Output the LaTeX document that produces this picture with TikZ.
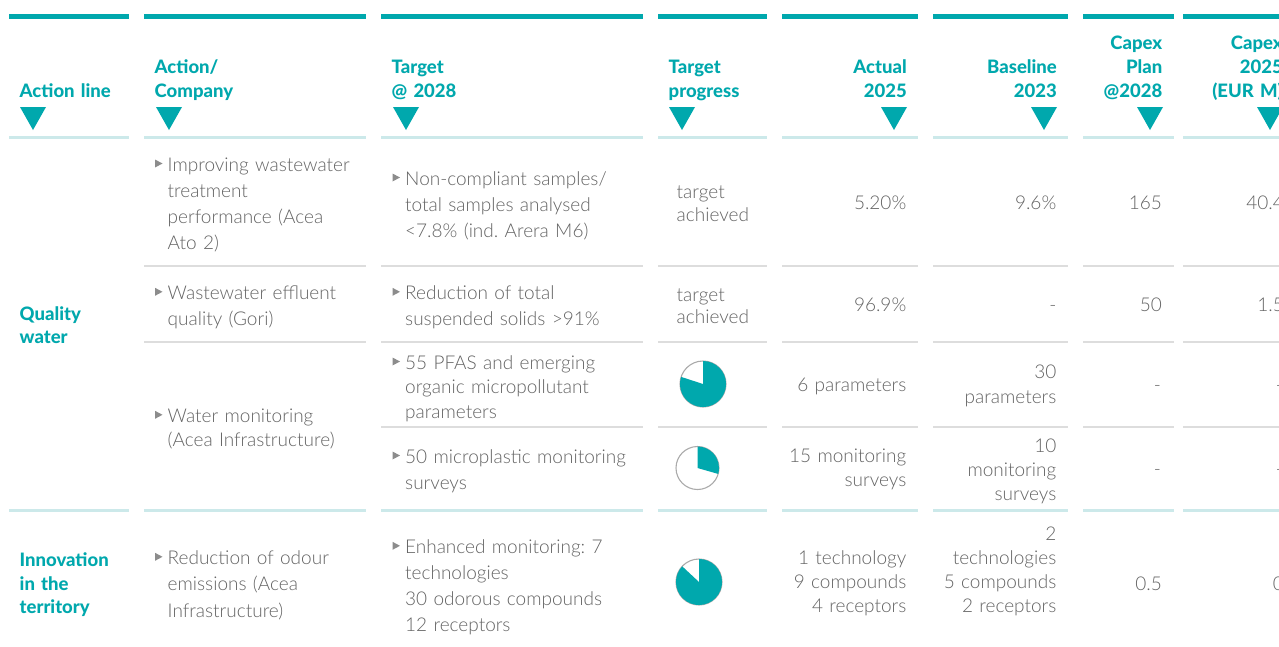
\documentclass[tikz,border=0pt]{standalone}
\usepackage{fontspec}
\IfFontExistsTF{Lato Heavy}{\newfontfamily\hdfont{Lato Heavy}\def\hdbf{}}{\newfontfamily\hdfont{Lato}\def\hdbf{\bfseries}}
\IfFontExistsTF{Lato Light}{\newfontfamily\bdfont{Lato Light}}{\newfontfamily\bdfont{Lato}}
\definecolor{teal1}{RGB}{0,168,173}
\definecolor{lteal}{RGB}{204,233,234}
\definecolor{gline}{RGB}{221,221,221}
\definecolor{txtgray}{RGB}{100,100,100}
\definecolor{bulgray}{RGB}{140,140,140}
\definecolor{piegray}{RGB}{170,170,170}
\tikzset{
  hd/.style={inner sep=0pt, text=teal1, text width=200pt, font=\hdfont\hdbf\fontsize{18.5}{24}\selectfont},
  hdl/.style={hd, align=left, anchor=base west},
  hdr/.style={hd, align=right, anchor=base east},
  bdl/.style={inner sep=0pt, text=txtgray, text width=300pt, align=left, anchor=base west, font=\bdfont\frenchspacing\fontsize{19}{#1}\selectfont},
  bdl/.default=26.3,
  bdr/.style={inner sep=0pt, text=txtgray, text width=220pt, align=right, anchor=base east, font=\bdfont\frenchspacing\fontsize{19}{#1}\selectfont},
  bdr/.default=24.3,
  cl/.style={inner sep=0pt, text=teal1, text width=150pt, align=left, anchor=base west, font=\hdfont\hdbf\fontsize{18.5}{23.6}\selectfont},
  bul/.pic={\fill[bulgray] (0,11.5) -- (0,3.5) -- (7.5,7.5) -- cycle;},
  tri/.pic={\fill[teal1] (0,0) -- (26,0) -- (13,-23) -- cycle;},
  pieout/.style={draw=piegray, line width=1.1pt, fill=white}
}
\begin{document}
\begin{tikzpicture}[x=1pt,y=1pt]
\useasboundingbox (0,0) rectangle (1279,-646);
\fill[white] (0,0) rectangle (1279,-646);
\clip (0,0) rectangle (1279,-646);
% column bars and lines
\foreach \a/\b in {9/129,144/366,381/643,658/767,782/918,933/1068,1083/1174,1183/1300}{
  \fill[teal1] (\a,-13.5) rectangle (\b,-18.5);
  \fill[lteal] (\a,-136) rectangle (\b,-138.6);
  \fill[lteal] (\a,-509) rectangle (\b,-511.6);
}
\foreach \a/\b in {144/366,381/643,658/767,782/918,933/1068,1083/1174,1183/1300}{
  \fill[gline] (\a,-265) rectangle (\b,-267);
  \fill[gline] (\a,-340.7) rectangle (\b,-342.7);
}
\foreach \a/\b in {381/643,658/767,782/918,933/1068,1083/1174,1183/1300}{
  \fill[gline] (\a,-426.3) rectangle (\b,-428.3);
}
% header triangles
\foreach \x in {20,156,393,669,881,1031,1137,1257}{
  \pic at (\x,-107) {tri};
}
% headers
\node[hdl] (h1) at (19.5,-97) {Action line};
\node[hdl] (h2) at (154.5,-73) {Action/\\Company};
\node[hdl] (h3) at (391.5,-73) {Target\\@ 2028};
\node[hdl] (h4) at (668.5,-73) {Target\\progress};
\node[hdr] (h5) at (907,-73) {Actual\\2025};
\node[hdr] (h6) at (1057,-73) {Baseline\\2023};
\node[hdr] (h7) at (1162.5,-49) {Capex\\Plan\\@2028};
\node[hdr] (h8) at (1283,-49) {Capex\\2025\\(EUR M)};
% action lines
\node[cl] (a1) at (19.5,-320) {Quality\\water};
\node[cl] (a2) at (19.5,-566.7) {Innovation\\in the\\territory};
% bullets
\foreach \x/\y in {155/171,392.5/185,155/299.3,392.5/299.3,392.5/369,392.5/463,155/422.3,155/564.3,392.5/553.3}{
  \pic at (\x,-\y) {bul};
}
% row 1
\node[bdl] (r1c2) at (167.5,-171) {Improving wastewater\\treatment\\performance (Acea\\Ato 2)};
\node[bdl] (r1c3) at (405,-185) {Non-compliant samples/\\total samples analysed\\<7.8\% (ind. Arera M6)};
\node[bdl=23] (r1c4) at (676.5,-198.3) {target\\achieved};
\node[bdr] (r1c5) at (906.5,-209.3) {5.20\%};
\node[bdr] (r1c6) at (1056.5,-209.3) {9.6\%};
\node[bdr] (r1c7) at (1162,-209.3) {165};
\node[bdr] (r1c8) at (1284,-209.3) {40.4};
% row 2
\node[bdl] (r2c2) at (167.5,-299.3) {Wastewater effluent\\quality (Gori)};
\node[bdl] (r2c3) at (405,-299.3) {Reduction of total\\suspended solids >91\%};
\node[bdl=22.5] (r2c4) at (676.5,-301.3) {target\\achieved};
\node[bdr] (r2c5) at (906.5,-311) {96.9\%};
\node[bdr] (r2c6) at (1056.5,-311) {-};
\node[bdr] (r2c7) at (1162,-311) {50};
\node[bdr] (r2c8) at (1284,-311) {1.5};
% row 3 and 4 (merged action)
\node[bdl=24.4] (r3c2) at (167.5,-422.3) {Water monitoring\\(Acea Infrastructure)};
\node[bdl=24.5] (r3c3) at (405,-369) {55 PFAS and emerging\\organic micropollutant\\parameters};
\node[bdr] (r3c5) at (906.5,-391.7) {6 parameters};
\node[bdr=25] (r3c6) at (1056.5,-378.3) {30\\parameters};
\node[bdr] (r3c7) at (1161,-391.7) {-};
\node[bdr] (r3c8) at (1283,-391.7) {-};
\node[bdl=26] (r4c3) at (405,-463) {50 microplastic monitoring\\surveys};
\node[bdr=24] (r4c5) at (906.5,-462.7) {15 monitoring\\surveys};
\node[bdr=23.7] (r4c6) at (1056.5,-452.7) {10\\monitoring\\surveys};
\node[bdr] (r4c7) at (1161,-475.5) {-};
\node[bdr] (r4c8) at (1283,-475.5) {-};
% row 5
\node[bdl=26.5] (r5c2) at (167.5,-564.3) {Reduction of odour\\emissions (Acea\\Infrastructure)};
\node[bdl=26.1] (r5c3) at (405,-553.3) {Enhanced monitoring: 7\\technologies\\30 odorous compounds\\12 receptors};
\node[bdr=24.3] (r5c5) at (906.5,-564) {1 technology\\9 compounds\\4 receptors};
\node[bdr=24.2] (r5c6) at (1056.5,-540) {2\\technologies\\5 compounds\\2 receptors};
\node[bdr] (r5c7) at (1162,-590) {0.5};
\node[bdr] (r5c8) at (1284,-590) {0};
% pies
\node[pieout, circle, minimum size=46pt, inner sep=0pt] (p1) at (703,-384) {};
\fill[teal1] (703,-384) -- ++(162:23) arc[start angle=162, end angle=450, radius=23] -- cycle;
\node[pieout, circle, minimum size=43pt, inner sep=0pt] (p2) at (697.5,-468) {};
\fill[teal1] (697.5,-468) -- ++(-16:21.5) arc[start angle=-16, end angle=90, radius=21.5] -- cycle;
\node[pieout, circle, minimum size=46pt, inner sep=0pt] (p3) at (699,-582) {};
\fill[teal1] (699,-582) -- ++(137:23) arc[start angle=137, end angle=450, radius=23] -- cycle;
\end{tikzpicture}
\end{document}
